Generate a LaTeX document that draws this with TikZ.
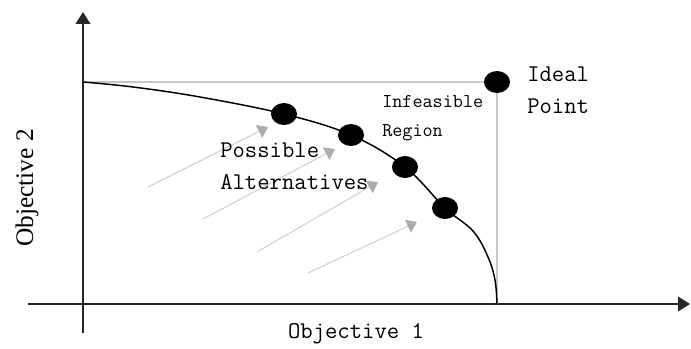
\documentclass[tikz,border=0pt]{standalone}
\usepackage{fontspec}
\setmainfont{Liberation Serif}
\usetikzlibrary{arrows.meta,shapes.geometric}

\begin{document}
\begin{tikzpicture}[x=0.75pt, y=-0.75pt,
  axis/.style={line width=1.4pt, black!85, -{Triangle[width=11pt, length=9pt]}},
  guide/.style={line width=0.9pt, gray!45},
  front/.style={line width=1.1pt, black},
  dot/.style={ellipse, fill=black, minimum width=19.5pt, minimum height=16.5pt,
              inner sep=0pt},
  hint/.style={line width=0.7pt, gray!40,
               -{Triangle[width=10.5pt, length=7.5pt, color=gray!65]}},
  lbl/.style={font=\ttfamily\fontsize{18}{24}\selectfont, align=left,
              inner sep=0pt, anchor=west},
]
\useasboundingbox (0,0) rectangle (691,349);

% ---- Axes ------------------------------------------------------------------
\coordinate (xstart) at (28,304);
\coordinate (xend)   at (690,304);
\coordinate (ystart) at (83,333);
\coordinate (yend)   at (83,12);
\draw[axis] (xstart) -- (xend);
\draw[axis] (ystart) -- (yend);

\node[font=\fontsize{19}{22}\selectfont, rotate=90] (obj2) at (27,188) {Objective 2};
\node[lbl, anchor=center] (obj1) at (356,334) {Objective 1};

% ---- Ideal point and its guides --------------------------------------------
\coordinate (f0) at (83,82);
\coordinate (ip) at (497,82);
\coordinate (f9) at (497,304);
\draw[guide] (f0) -- (ip) -- (f9);

% ---- Pareto front ----------------------------------------------------------
\coordinate (p1) at (284,114);
\coordinate (p2) at (351,135);
\coordinate (p3) at (405,167);
\coordinate (p4) at (445,208);
\draw[front] plot[smooth, tension=0.6] coordinates
  {(f0) (133,87) (200,97) (p1) (p2) (p3) (p4) (473,231) (488,257) (495,280) (f9)};

\node[dot] (ideal) at (ip) {};
\node[dot] (d1) at (p1) {};
\node[dot] (d2) at (p2) {};
\node[dot] (d3) at (p3) {};
\node[dot] (d4) at (p4) {};

% ---- Arrows towards the front ----------------------------------------------
\coordinate (a1) at (148,187); \coordinate (b1) at (268,127);
\coordinate (a2) at (203,219); \coordinate (b2) at (335,149);
\coordinate (a3) at (257,252); \coordinate (b3) at (378,182);
\coordinate (a4) at (308,273); \coordinate (b4) at (417,222);
\foreach \i in {1,...,4}
  \draw[hint] (a\i) -- (b\i);

% ---- Labels ----------------------------------------------------------------
\node[lbl] (possible) at (220,166) {Possible\\Alternatives};
\node[lbl, font=\ttfamily\fontsize{14.7}{21.75}\selectfont] (infeasible) at (382,118)
  {Infeasible\\Region};
\node[lbl] (ideallbl) at (527,90) {Ideal\\Point};

\end{tikzpicture}
\end{document}
